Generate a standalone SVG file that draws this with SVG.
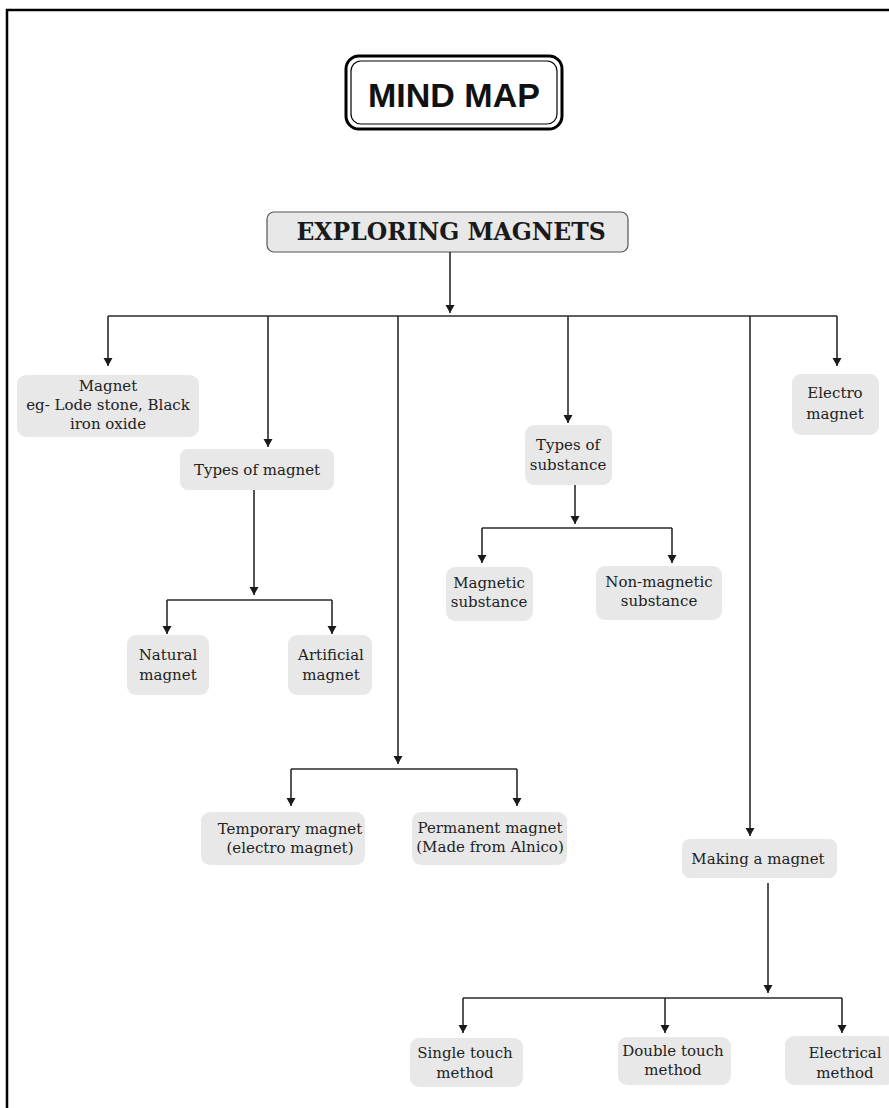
<svg xmlns="http://www.w3.org/2000/svg" width="889" height="1108" viewBox="0 0 889 1108">
<style>
.node rect{fill:#e8e8e8;stroke:none}
.node text{font-family:"DejaVu Serif","Liberation Serif",serif;font-size:15px;fill:#222;text-anchor:middle}
.conn path{fill:none;stroke:#2a2a2a;stroke-width:1.6}
</style>
<defs>
<marker id="arr" markerUnits="userSpaceOnUse" markerWidth="10" markerHeight="10" refX="8" refY="4.5" orient="auto">
<path d="M0,0 L8,4.5 L0,9 Z" fill="#1a1a1a"/>
</marker>
</defs>
<rect width="889" height="1108" fill="#fff"/>
<path d="M7,1108 V10 H889" fill="none" stroke="#000" stroke-width="2.5"/>

<g id="title">
<rect x="346" y="56" width="216" height="73" rx="13" fill="#fff" stroke="#000" stroke-width="3"/>
<rect x="351" y="61" width="206" height="63" rx="10" fill="none" stroke="#000" stroke-width="1.2"/>
<text x="454" y="107" font-family="'Liberation Sans',Arial,sans-serif" font-weight="bold" font-size="34" text-anchor="middle" fill="#111">MIND MAP</text>
</g>

<g id="root">
<rect x="267" y="212" width="361" height="40" rx="7" fill="#e8e8e8" stroke="#555" stroke-width="1.2"/>
<text x="451" y="240" font-family="'DejaVu Serif','Liberation Serif',serif" font-weight="bold" font-size="23.5" text-anchor="middle" fill="#1a1a1a">EXPLORING MAGNETS</text>
</g>

<g class="conn">
<path d="M450,252 V313" marker-end="url(#arr)"/>
<path d="M108,316 H837"/>
<path d="M108,316 V366" marker-end="url(#arr)"/>
<path d="M268,316 V447" marker-end="url(#arr)"/>
<path d="M398,316 V764" marker-end="url(#arr)"/>
<path d="M568,316 V423" marker-end="url(#arr)"/>
<path d="M750,316 V836" marker-end="url(#arr)"/>
<path d="M837,316 V366" marker-end="url(#arr)"/>
<path d="M254,490 V595" marker-end="url(#arr)"/>
<path d="M167,600 H332"/>
<path d="M167,600 V634" marker-end="url(#arr)"/>
<path d="M332,600 V634" marker-end="url(#arr)"/>
<path d="M575,485 V524" marker-end="url(#arr)"/>
<path d="M482,528 H672"/>
<path d="M482,528 V563" marker-end="url(#arr)"/>
<path d="M672,528 V563" marker-end="url(#arr)"/>
<path d="M291,769 H517"/>
<path d="M291,769 V806" marker-end="url(#arr)"/>
<path d="M517,769 V806" marker-end="url(#arr)"/>
<path d="M768,883 V993" marker-end="url(#arr)"/>
<path d="M463,998 H842"/>
<path d="M463,998 V1033" marker-end="url(#arr)"/>
<path d="M665,998 V1033" marker-end="url(#arr)"/>
<path d="M842,998 V1033" marker-end="url(#arr)"/>
</g>

<g id="magnet" class="node">
<rect x="17" y="375" width="182" height="62" rx="9"/>
<text x="108" y="391">Magnet</text>
<text x="108" y="410">eg- Lode stone, Black</text>
<text x="108" y="429">iron oxide</text>
</g>

<g id="electro" class="node">
<rect x="792" y="374" width="87" height="61" rx="9"/>
<text x="835" y="398">Electro</text>
<text x="835" y="419">magnet</text>
</g>

<g id="types-magnet" class="node">
<rect x="180" y="449" width="154" height="41" rx="8"/>
<text x="257" y="475">Types of magnet</text>
</g>

<g id="natural" class="node">
<rect x="127" y="635" width="82" height="60" rx="9"/>
<text x="168" y="660">Natural</text>
<text x="168" y="680">magnet</text>
</g>

<g id="artificial" class="node">
<rect x="288" y="635" width="84" height="60" rx="9"/>
<text x="331" y="660">Artificial</text>
<text x="331" y="680">magnet</text>
</g>

<g id="types-substance" class="node">
<rect x="525" y="425" width="87" height="60" rx="9"/>
<text x="568" y="450">Types of</text>
<text x="568" y="470">substance</text>
</g>

<g id="magnetic" class="node">
<rect x="446" y="567" width="87" height="54" rx="9"/>
<text x="489" y="588">Magnetic</text>
<text x="489" y="607">substance</text>
</g>

<g id="non-magnetic" class="node">
<rect x="596" y="566" width="126" height="54" rx="9"/>
<text x="659" y="587">Non-magnetic</text>
<text x="659" y="606">substance</text>
</g>

<g id="temporary" class="node">
<rect x="201" y="812" width="164" height="53" rx="9"/>
<text x="290" y="834">Temporary magnet</text>
<text x="290" y="853">(electro magnet)</text>
</g>

<g id="permanent" class="node">
<rect x="412" y="812" width="155" height="53" rx="9"/>
<text x="490" y="833">Permanent magnet</text>
<text x="490" y="852">(Made from Alnico)</text>
</g>

<g id="making" class="node">
<rect x="682" y="839" width="155" height="39" rx="8"/>
<text x="758" y="864">Making a magnet</text>
</g>

<g id="single" class="node">
<rect x="410" y="1038" width="113" height="49" rx="9"/>
<text x="465" y="1058">Single touch</text>
<text x="465" y="1078">method</text>
</g>

<g id="double" class="node">
<rect x="618" y="1037" width="113" height="48" rx="9"/>
<text x="673" y="1056">Double touch</text>
<text x="673" y="1075">method</text>
</g>

<g id="electrical" class="node">
<rect x="785" y="1036" width="110" height="49" rx="9"/>
<text x="845" y="1058">Electrical</text>
<text x="845" y="1078">method</text>
</g>
</svg>
